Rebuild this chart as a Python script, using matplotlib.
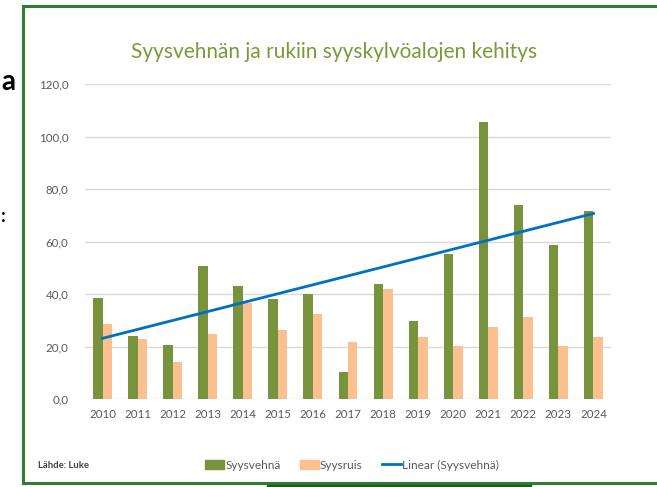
import numpy as np
import matplotlib
matplotlib.use("Agg")
import matplotlib.pyplot as plt
from matplotlib.lines import Line2D
from matplotlib.patches import Patch

# Data (1000 ha)
years = ["2010", "2011", "2012", "2013", "2014", "2015", "2016", "2017",
         "2018", "2019", "2020", "2021", "2022", "2023", "2024"]
syysvehna = [38.6, 24.0, 20.4, 50.6, 43.1, 38.0, 40.0, 10.3,
             43.7, 29.7, 55.1, 105.5, 74.0, 58.8, 71.7]
syysruis = [28.6, 22.9, 14.2, 24.7, 36.7, 26.2, 32.4, 21.7,
            42.0, 23.6, 20.3, 27.3, 31.1, 20.1, 23.6]
yticks = [0, 20, 40, 60, 80, 100, 120]

GREEN = "#77933C"
ORANGE = "#FAC090"
BLUE = "#0070C0"
GREY = "#595959"

plt.rcParams["font.family"] = ["Lato", "DejaVu Sans"]

fig = plt.figure(figsize=(6.57, 4.87), dpi=100)
W, H = 657, 487

def fx(px):
    return px / W

def fy(py):
    return 1 - py / H

ax = fig.add_axes([fx(85), fy(399), fx(611) - fx(85), fy(84) - fy(399)])

x = np.arange(len(years))
bw = 0.27
ax.bar(x - bw / 2, syysvehna, width=bw, color=GREEN, zorder=3)
ax.bar(x + bw / 2, syysruis, width=bw, color=ORANGE, zorder=3)

# linear trend of Syysvehnä
k, b = np.polyfit(x, syysvehna, 1)
ax.plot(x, k * x + b, color=BLUE, lw=2, zorder=4)

ax.set_xlim(-0.5, len(years) - 0.5)
ax.set_ylim(0, 120)
ax.set_yticks(yticks)
ax.set_yticklabels([f"{v:.1f}".replace(".", ",") for v in yticks])
ax.set_xticks(x)
ax.set_xticklabels(years)
ax.tick_params(length=0, colors=GREY, labelsize=8.3)
ax.tick_params(axis="y", pad=12)
ax.tick_params(axis="x", pad=7)
ax.grid(axis="y", color="#D9D9D9", lw=1, zorder=0)
for s in ax.spines.values():
    s.set_visible(False)

fig.text(fx(334), fy(52), "Syysvehnän ja rukiin syyskylvöalojen kehitys",
         ha="center", va="center", fontsize=15, color="#7A9A3A")

handles = [Patch(color=GREEN), Patch(color=ORANGE), Line2D([], [], color=BLUE, lw=2)]
fig.legend(handles, ["Syysvehnä", "Syysruis", "Linear (Syysvehnä)"],
           loc="center", bbox_to_anchor=(fx(352), fy(465)), ncol=3, frameon=False,
           fontsize=8.6, labelcolor=GREY, handlelength=1.6, handleheight=0.8,
           handletextpad=0.1, columnspacing=1.6)

fig.text(fx(38), fy(465), "Lähde: Luke", ha="left", va="center",
         fontsize=6.8, fontweight="bold", color="#404040")

# surrounding frame of the slide
frame = dict(color="#2E7D32", lw=2.2, transform=fig.transFigure)
fig.add_artist(Line2D([fx(23), fx(23)], [fy(6), fy(483)], **frame))
fig.add_artist(Line2D([fx(23), 1], [fy(6), fy(6)], **frame))
fig.add_artist(Line2D([fx(23), 1], [fy(483), fy(483)], **frame))
fig.add_artist(Line2D([fx(268), fx(530)], [fy(486), fy(486)], color="#1E5A2A",
                      lw=2.5, transform=fig.transFigure))

# slide text at the left edge, outside the chart frame
fig.text(fx(1), fy(82), "a", ha="left", va="center", fontsize=20,
         fontweight="bold", color="black")
fig.text(fx(1), fy(217), ":", ha="left", va="center", fontsize=13,
         fontweight="bold", color="black")

fig.savefig("out.png", dpi=100)
